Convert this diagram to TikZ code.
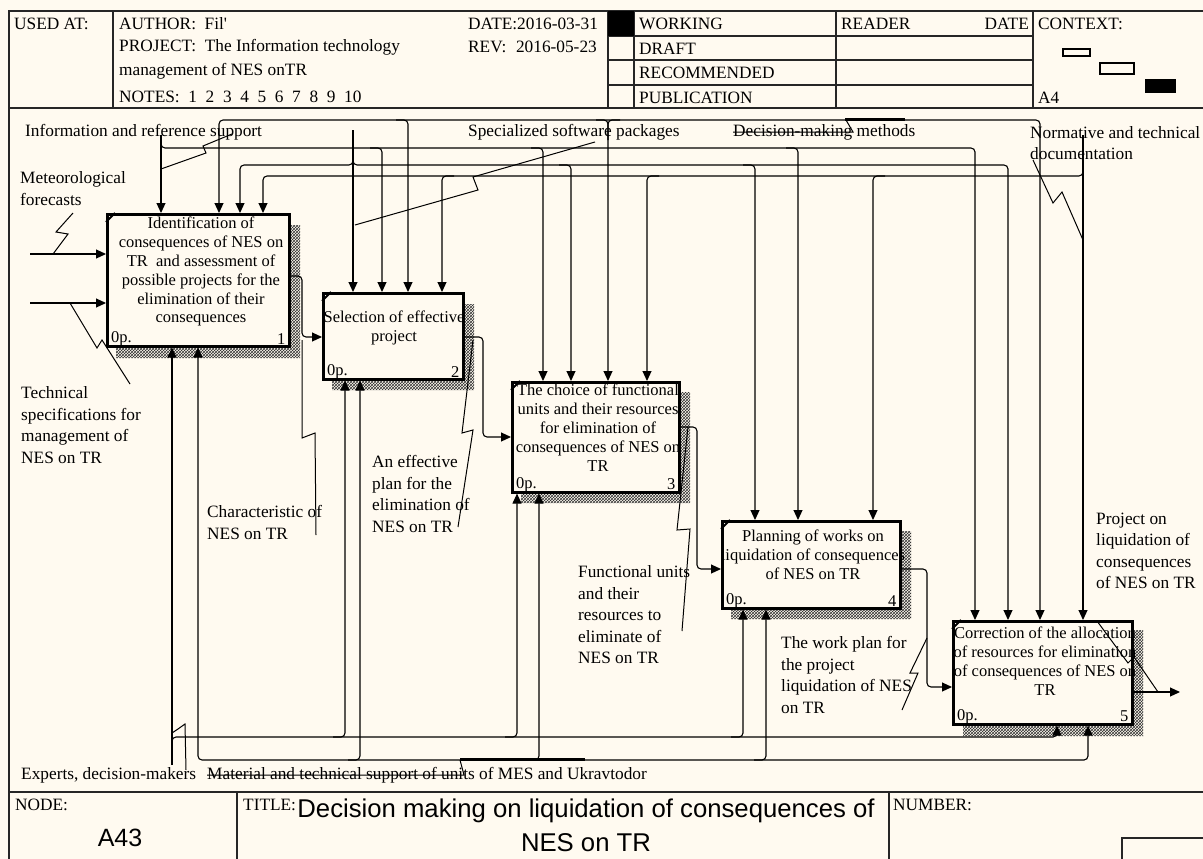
\documentclass[tikz,border=0pt]{standalone}
\usepackage{fontspec}
\setmainfont{Liberation Serif}
\newfontfamily\sansf{Liberation Sans}
\usetikzlibrary{arrows.meta,patterns}
\definecolor{bg}{HTML}{FFFAF0}
\tikzset{
  frame/.style={draw=black!85, line width=1.3pt},
  conn/.style={draw=black, line width=1.1pt, rounded corners=4pt},
  arr/.style={conn, -{Triangle[length=10pt,width=9pt]}},
  arrtwo/.style={conn, {Triangle[length=10pt,width=9pt]}-{Triangle[length=10pt,width=9pt]}},
  sq/.style={draw=black, line width=1pt},
  fn/.style={draw=black, line width=2.6pt, fill=bg, inner sep=0, anchor=north west},
  shd/.style={pattern=crosshatch, pattern color=black!80},
  btxt/.style={font=\fontsize{16.5}{18.8}\selectfont, align=center, inner sep=0, anchor=north},
  bnum/.style={font=\fontsize{16.5}{18.8}\selectfont, inner sep=0},
  lab/.style={font=\fontsize{17.3}{21.5}\selectfont, align=left, inner sep=0, anchor=north west},
  slab/.style={font=\fontsize{17.3}{21.5}\selectfont, inner sep=0, anchor=west},
  hd/.style={font=\fontsize{17.3}{20}\selectfont, inner sep=0, anchor=west},
}
\begin{document}
\begin{tikzpicture}[x=1pt,y=-1pt]
\useasboundingbox (0,0) rectangle (1203,859);
\fill[bg] (0,0) rectangle (1203,859);

% ---------- frame ----------
\draw[frame] (1203,11) -- (9,11) -- (9,859);
\draw[frame] (9,108) -- (1203,108);
\draw[frame] (113,11) -- (113,108);
\draw[frame] (608,11) -- (608,108);
\draw[frame] (634,11) -- (634,108);
\draw[frame] (836,11) -- (836,108);
\draw[frame] (1033,11) -- (1033,108);
\foreach \yy in {36,60,85} \draw[frame] (608,\yy) -- (1033,\yy);
\fill[black] (608,11) rectangle (634,36);
\draw[line width=1.2pt] (1063,49) rectangle (1090,56);
\draw[line width=1.2pt] (1100,63) rectangle (1134,74);
\fill[black] (1145,79) rectangle (1176,93);
\draw[frame] (9,792) -- (1203,792);
\draw[frame] (237,792) -- (237,859);
\draw[frame] (889,792) -- (889,859);
\draw[frame] (1203,838) -- (1122,838) -- (1122,859);

% header texts
\node[hd] (usedat) at (14,24) {USED AT:};
\node[hd] (author) at (119,24) {AUTHOR:\ \ Fil\textquotesingle};
\node[hd] (project) at (119,47) {PROJECT:\ \ The Information technology};
\node[hd] (project2) at (119,71) {management of NES onTR};
\node[hd] (notes) at (119,97) {NOTES:\ \ 1\ \ 2\ \ 3\ \ 4\ \ 5\ \ 6\ \ 7\ \ 8\ \ 9\ \ 10};
\node[hd] (date) at (468,24) {DATE:2016-03-31};
\node[hd] (rev) at (468,47) {REV:};
\node[hd, anchor=east] (revd) at (597,47) {2016-05-23};
\node[hd] (working) at (639,24) {WORKING};
\node[hd] (draft) at (639,49) {DRAFT};
\node[hd] (recom) at (639,73) {RECOMMENDED};
\node[hd] (publ) at (639,98) {PUBLICATION};
\node[hd] (reader) at (841,24) {READER};
\node[hd, anchor=east] (rdate) at (1029,24) {DATE};
\node[hd] (context) at (1038,24) {CONTEXT:};
\node[hd] (afour) at (1038,98) {A4};

% title block texts
\node[hd] (nodelab) at (15,805) {NODE:};
\node[font=\sansf\fontsize{25}{30}\selectfont, inner sep=0] (nodeno) at (120,838) {A43};
\node[hd] (titlelab) at (243,805) {TITLE:};
\node[font=\sansf\fontsize{25.7}{34}\selectfont, align=center, inner sep=0, anchor=north] (title) at (586,799) {Decision making on liquidation of consequences of\\NES on TR};
\node[hd] (numlab) at (893,805) {NUMBER:};

% ---------- shadows ----------
\fill[shd] (288,225) -- (300,225) -- (300,358) -- (116,358) -- (116,345) -- (288,345) -- cycle;
\fill[shd] (462,304) -- (474,304) -- (474,390) -- (332,390) -- (332,378) -- (462,378) -- cycle;
\fill[shd] (678,392) -- (690,392) -- (690,503) -- (521,503) -- (521,491) -- (678,491) -- cycle;
\fill[shd] (899,531) -- (911,531) -- (911,619) -- (731,619) -- (731,607) -- (899,607) -- cycle;
\fill[shd] (1131,630) -- (1143,630) -- (1143,736) -- (963,736) -- (963,723) -- (1131,723) -- cycle;

% ---------- boxes ----------
\node[fn, minimum width=182pt, minimum height=132pt] (b1) at (106,213) {};
\node[fn, minimum width=140pt, minimum height=86pt] (b2) at (322,292) {};
\node[fn, minimum width=167pt, minimum height=110pt] (b3) at (511,381) {};
\node[fn, minimum width=178pt, minimum height=87pt] (b4) at (721,520) {};
\node[fn, minimum width=179pt, minimum height=103pt] (b5) at (952,620) {};
\foreach \b in {b1,b2,b3,b4,b5}
  \draw[line width=1.8pt] ([yshift=-9pt]\b.north west) -- ([xshift=9pt]\b.north west);

\node[btxt] (t1) at (201,217) {Identification of\\consequences of NES on\\TR\ \ and assessment of\\possible projects for the\\elimination of their\\consequences};
\node[btxt] (t2) at (394,311) {Selection of effective\\project};
\node[btxt] (t3) at (598,384) {The choice of functional\\units and their resources\\for elimination of\\consequences of NES on\\TR};
\node[btxt] (t4) at (813,530) {Planning of works on\\liquidation of consequences\\of NES on TR};
\node[btxt] (t5) at (1045,627) {Correction of the allocation\\of resources for elimination\\of consequences of NES on\\TR};

\node[bnum, anchor=west] (o1) at ([xshift=5pt,yshift=9pt]b1.south west) {0p.};
\node[bnum, anchor=east] (n1) at ([xshift=-5pt,yshift=9pt]b1.south east) {1};
\node[bnum, anchor=west] (o2) at ([xshift=5pt,yshift=9pt]b2.south west) {0p.};
\node[bnum, anchor=east] (n2) at ([xshift=-5pt,yshift=9pt]b2.south east) {2};
\node[bnum, anchor=west] (o3) at ([xshift=5pt,yshift=9pt]b3.south west) {0p.};
\node[bnum, anchor=east] (n3) at ([xshift=-5pt,yshift=9pt]b3.south east) {3};
\node[bnum, anchor=west] (o4) at ([xshift=5pt,yshift=9pt]b4.south west) {0p.};
\node[bnum, anchor=east] (n4) at ([xshift=-5pt,yshift=9pt]b4.south east) {4};
\node[bnum, anchor=west] (o5) at ([xshift=5pt,yshift=9pt]b5.south west) {0p.};
\node[bnum, anchor=east] (n5) at ([xshift=-5pt,yshift=9pt]b5.south east) {5};

% ---------- controls ----------
% Information and reference support (y=148)
\draw[arr] (161,135) -- (161,0 |- b1.north);
\draw[arr] (161,140) |- (975,148) -- (975,0 |- b5.north);
\draw[arr] (370,148) -| (382,0 |- b2.north);
\draw[arr] (531,148) -| (543,0 |- b3.north);
\draw[arr] (786,148) -| (798,0 |- b4.north);
% Decision-making methods (y=120)
\draw[arrtwo] (219,0 |- b1.north) |- (1040,120) -- (1040,0 |- b5.north);
\draw[arr] (396,120) -| (408,0 |- b2.north);
\draw[arr] (596,120) -| (608,0 |- b3.north);
\draw[conn] (620,120) -| (608,140);
% Specialized software packages (x=353, y=165)
\draw[arr] (353,130) -- (353,0 |- b2.north);
\draw[arr] (353,155) |- (240,165) -- (240,0 |- b1.north);
\draw[arr] (353,155) |- (1008,165) -- (1008,0 |- b5.north);
\draw[arr] (559,165) -| (571,0 |- b3.north);
\draw[arr] (743,165) -| (755,0 |- b4.north);
% Normative and technical documentation (x=1083, y=176)
\draw[arr] (1083,135) -- (1083,0 |- b5.north);
\draw[arr] (1083,166) |- (263,176) -- (263,0 |- b1.north);
\draw[arr] (454,176) -| (442,0 |- b2.north);
\draw[arr] (659,176) -| (647,0 |- b3.north);
\draw[arr] (885,176) -| (873,0 |- b4.north);

% ---------- inputs ----------
\coordinate (inA) at (30,254);
\coordinate (inB) at (30,303);
\draw[arr] (inA) -- (inA -| b1.west);
\draw[arr] (inB) -- (inB -| b1.west);

% ---------- flows between boxes ----------
\draw[arr] (b1.east |- 0,276) -| (302,337) -- (b2.west |- 0,337);
\draw[arr] (b2.east |- 0,337) -| (483,437) -- (b3.west |- 0,437);
\draw[arr] (b3.east |- 0,427) -| (697,569) -- (b4.west |- 0,569);
\draw[arr] (b4.east |- 0,569) -| (927,687) -- (b5.west |- 0,687);
\coordinate (out5) at (1180,692);
\draw[arr] (b5.east |- out5) -- (out5);

% ---------- mechanisms ----------
\draw[arr] (172,765) -- (172,0 |- b1.south);
\draw[arr] (172,745) |- (1057,737) -- (1057,0 |- b5.south);
\draw[arrtwo] (198,0 |- b1.south) |- (1088,760) -- (1088,0 |- b5.south);
\draw[arr] (333,737) -| (345,0 |- b2.south);
\draw[arr] (348,760) -| (360,0 |- b2.south);
\draw[arr] (505,737) -| (517,0 |- b3.south);
\draw[arr] (527,760) -| (539,0 |- b3.south);
\draw[arr] (731,737) -| (743,0 |- b4.south);
\draw[arr] (754,760) -| (766,0 |- b4.south);

% ---------- labels ----------
\node[slab] (linfo) at (25,132) {Information and reference support};
\node[slab] (lspec) at (468,132) {Specialized software packages};
\node[slab] (ldec) at (733,132) {Decision-making methods};
\node[lab] (lnorm) at (1030,126) {Normative and technical\\documentation};
\node[lab] (lmet) at (20,171.5) {Meteorological\\forecasts};
\node[lab] (ltech) at (21,386.5) {Technical\\specifications for\\management of\\NES on TR};
\node[lab] (lchar) at (207,505.5) {Characteristic of\\NES on TR};
\node[lab] (leff) at (372,455.5) {An effective\\plan for the\\elimination of\\NES on TR};
\node[lab] (lfun) at (578,565.5) {Functional units\\and their\\resources to\\eliminate of\\NES on TR};
\node[lab] (lwork) at (781,636.5) {The work plan for\\the project\\liquidation of NES\\on TR};
\node[lab] (lproj) at (1096,512.5) {Project on\\liquidation of\\consequences\\of NES on TR};
\node[slab] (lexp) at (21,775) {Experts, decision-makers};
\node[slab] (lmat) at (207,775) {Material and technical support of units of MES and Ukravtodor};

% ---------- label squiggles ----------
\draw[sq] (161,169) -- (206,153) -- (203,146) -- (232,134);
\draw[sq] (595,142) -- (473,177) -- (478,190) -- (355,225);
\draw[sq] (733,132) -- (853,132) -- (846,120);
\draw[line width=3pt] (845,119.5) -- (905,119.5);
\draw[sq] (1033,160) -- (1053,203) -- (1062,192) -- (1083,240);
\draw[sq] (53,254) -- (68,234) -- (56,232) -- (73,213);
\draw[sq] (70,303) -- (97,348) -- (102,340) -- (130,384);
\draw[sq] (302,340) -- (302,438) -- (315,433) -- (316,535);
\draw[sq] (473,340) -- (462,433) -- (473,430) -- (458,527);
\draw[sq] (688,427) -- (677,530) -- (690,529) -- (682,631);
\draw[sq] (927,638) -- (910,673) -- (918,673) -- (902,710);
\draw[sq] (1097,621) -- (1128,663) -- (1134,657) -- (1158,692);
\draw[sq] (186,770) -- (185,724) -- (178,729) -- (172,733);
\draw[sq] (207,775) -- (464,775) -- (460,760);
\draw[line width=3pt] (460,759.5) -- (585,759.5);
\end{tikzpicture}
\end{document}
